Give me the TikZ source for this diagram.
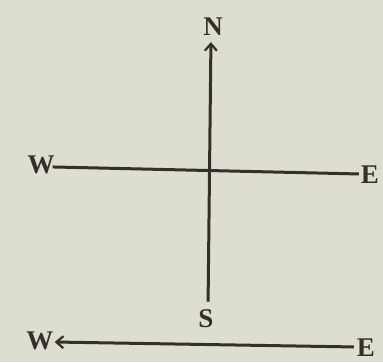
\documentclass[tikz,border=0pt]{standalone}
\usepackage{fontspec}
\setmainfont{Liberation Serif}
\usetikzlibrary{arrows.meta}
\definecolor{paper}{RGB}{222,221,209}
\definecolor{ink}{RGB}{52,48,40}
\tikzset{
  lbl/.style={text=ink, font=\fontsize{27}{27}\selectfont\bfseries, inner sep=0pt},
  axis/.style={draw=ink, line width=3pt},
  tip/.style={-{Straight Barb[length=7pt,width=12pt,line width=2.2pt]}}
}
\begin{document}
\begin{tikzpicture}[x=1pt,y=-1pt]
\fill[paper] (0,0) rectangle (383,362);
\useasboundingbox (0,0) rectangle (383,362);
\node[lbl] (N) at (213,27) {N};
\node[lbl] (S) at (206,319) {S};
\node[lbl] (W1) at (41,165) {W};
\node[lbl] (E1) at (370,175) {E};
\node[lbl] (W2) at (40,341) {W};
\node[lbl] (E2) at (366,348) {E};
\draw[axis,tip,shorten <=8pt,shorten >=6pt] ([xshift=2pt]S.north) -- ([xshift=-2pt]N.south);
\draw[axis,shorten <=-2pt,shorten >=2pt] ([yshift=-2pt]W1.east) -- ([yshift=1pt]E1.west);
\draw[axis,tip,shorten <=3pt,shorten >=1pt] ([yshift=1pt]E2.west) -- ([yshift=-1pt]W2.east);
\end{tikzpicture}
\end{document}
